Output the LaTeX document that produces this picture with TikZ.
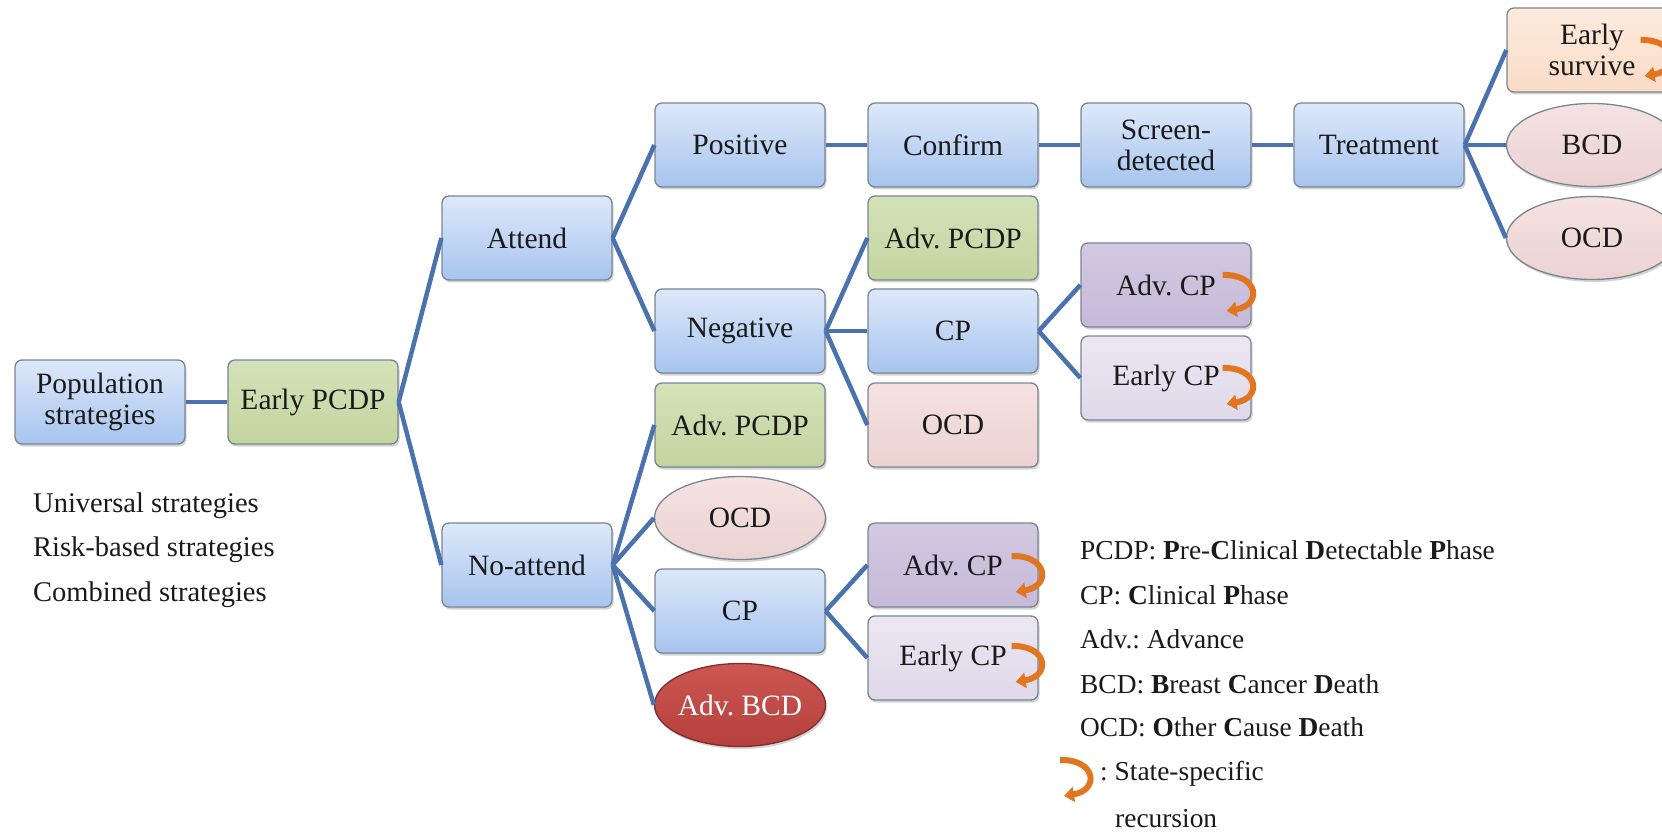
\documentclass[tikz,border=0pt]{standalone}
\usepackage{fontspec}
\setmainfont{Liberation Serif}
\usetikzlibrary{shapes.geometric,shadows,arrows.meta,calc}

\definecolor{blueTop}{HTML}{DDE8FA}
\definecolor{blueBot}{HTML}{A6C4EE}
\definecolor{greenTop}{HTML}{D5E2BA}
\definecolor{greenBot}{HTML}{C2D49E}
\definecolor{pinkTop}{HTML}{F4E2E1}
\definecolor{pinkBot}{HTML}{ECD3D2}
\definecolor{redTop}{HTML}{CB5652}
\definecolor{redBot}{HTML}{B5403D}
\definecolor{purpTop}{HTML}{D3C9E1}
\definecolor{purpBot}{HTML}{C5B9D9}
\definecolor{lavTop}{HTML}{ECE7F2}
\definecolor{lavBot}{HTML}{DFD8E9}
\definecolor{peachTop}{HTML}{FDEBDE}
\definecolor{peachBot}{HTML}{FADBC6}
\definecolor{edgegray}{HTML}{7A8593}
\definecolor{linkblue}{HTML}{4A72AE}
\definecolor{recorange}{HTML}{E2751F}
\definecolor{txt}{HTML}{1A1A1A}

\newcommand\bxfont{\fontsize{29.5}{31}\selectfont\frenchspacing}
\newcommand\lgfont{\fontsize{27.4}{30}\selectfont\frenchspacing}
\newcommand\stfont{\fontsize{28.5}{30}\selectfont\frenchspacing}

\tikzset{
  base/.style={draw=edgegray, line width=1.3pt, align=center, font=\bxfont,
    text=txt, inner sep=0pt,
    drop shadow={opacity=0.35, shadow xshift=1.5pt, shadow yshift=-2.5pt}},
  stbox/.style={base, rectangle, rounded corners=7pt,
    minimum width=170pt, minimum height=84pt},
  stoval/.style={base, ellipse, inner xsep=-30pt, inner ysep=-8pt,
    minimum width=171pt, minimum height=83pt},
  bluefill/.style={top color=blueTop, bottom color=blueBot},
  greenfill/.style={top color=greenTop, bottom color=greenBot},
  pinkfill/.style={top color=pinkTop, bottom color=pinkBot},
  redfill/.style={top color=redTop, bottom color=redBot, text=white, draw=redBot!70!black},
  purpfill/.style={top color=purpTop, bottom color=purpBot},
  lavfill/.style={top color=lavTop, bottom color=lavBot},
  peachfill/.style={top color=peachTop, bottom color=peachBot},
  link/.style={draw=linkblue, line width=4.5pt},
  recarrow/.style={draw=recorange, line width=6pt,
    -{Triangle[length=10pt,width=15pt]}},
  recur/.pic={\draw[recarrow] (0,0) .. controls (36,-1) and (40,30) .. (4,36);},
  legend/.style={anchor=west, font=\lgfont, text=txt, inner sep=0pt},
  strat/.style={legend, font=\stfont}
}

\begin{document}
\begin{tikzpicture}[x=1pt,y=-1pt]
\useasboundingbox (0,0) rectangle (1662,834);
\clip (0,0) rectangle (1662,834);

% stages of the tree
\node[stbox,bluefill]  (pop)   at (100,402)  {Population\\strategies};
\node[stbox,greenfill] (epcdp) at (313,402)  {Early PCDP};
\node[stbox,bluefill]  (att)   at (527,238)  {Attend};
\node[stbox,bluefill]  (natt)  at (527,565)  {No-attend};

\node[stbox,bluefill]  (pos)   at (740,145)  {Positive};
\node[stbox,bluefill]  (neg)   at (740,331)  {Negative};
\node[stbox,greenfill] (apcdpB) at (740,425) {Adv. PCDP};
\node[stoval,pinkfill] (ocdB)  at (740,518)  {OCD};
\node[stbox,bluefill]  (cpB)   at (740,611)  {CP};
\node[stoval,redfill]  (abcd)  at (740,705)  {Adv. BCD};

\node[stbox,bluefill]  (conf)  at (953,145)  {Confirm};
\node[stbox,greenfill] (apcdpA) at (953,238) {Adv. PCDP};
\node[stbox,bluefill]  (cpA)   at (953,331)  {CP};
\node[stbox,pinkfill]  (ocdA)  at (953,425)  {OCD};
\node[stbox,purpfill]  (acpB)  at (953,565)  {Adv. CP};
\node[stbox,lavfill]   (ecpB)  at (953,658)  {Early CP};

\node[stbox,bluefill]  (scr)   at (1166,145) {Screen-\\detected};
\node[stbox,purpfill]  (acpA)  at (1166,285) {Adv. CP};
\node[stbox,lavfill]   (ecpA)  at (1166,378) {Early CP};

\node[stbox,bluefill]  (treat) at (1379,145) {Treatment};
\node[stbox,peachfill] (esurv) at (1592,50)  {Early\\survive};
\node[stoval,pinkfill] (bcd)   at (1592,145) {BCD};
\node[stoval,pinkfill] (ocdC)  at (1592,238) {OCD};

% branches
\foreach \a/\b in {pop/epcdp, epcdp/att, epcdp/natt,
    att/pos, att/neg, pos/conf, conf/scr, scr/treat,
    treat/esurv, treat/bcd, treat/ocdC,
    neg/apcdpA, neg/cpA, neg/ocdA, cpA/acpA, cpA/ecpA,
    natt/apcdpB, natt/ocdB, natt/cpB, natt/abcd, cpB/acpB, cpB/ecpB}
  \draw[link] (\a.east) -- (\b.west);

% state-specific recursion marks
\pic at ($(acpA.east)+(-29,-10)$) {recur};
\pic at ($(ecpA.east)+(-29,-10)$) {recur};
\pic at ($(acpB.east)+(-27,-9)$) {recur};
\pic at ($(ecpB.east)+(-27,-12)$) {recur};
\pic at ($(esurv.east)+(-37,-10)$) {recur};

% strategy list
\node[strat] (s1) at (33,506) {Universal strategies};
\node[strat] (s2) at (33,550) {Risk-based strategies};
\node[strat] (s3) at (33,595) {Combined strategies};

% abbreviations
\node[legend] (l1) at (1080,550) {PCDP: \textbf{P}re-\textbf{C}linical \textbf{D}etectable \textbf{P}hase};
\node[legend] (l2) at (1080,595) {CP: \textbf{C}linical \textbf{P}hase};
\node[legend] (l3) at (1080,639) {Adv.: Advance};
\node[legend] (l4) at (1080,684) {BCD: \textbf{B}reast \textbf{C}ancer \textbf{D}eath};
\node[legend] (l5) at (1080,727) {OCD: \textbf{O}ther \textbf{C}ause \textbf{D}eath};
\pic at (1060,760) {recur};
\node[legend] (l6) at (1100,774) {: State-specific};
\node[legend] (l7) at (1115,819) {recursion};
\end{tikzpicture}
\end{document}
